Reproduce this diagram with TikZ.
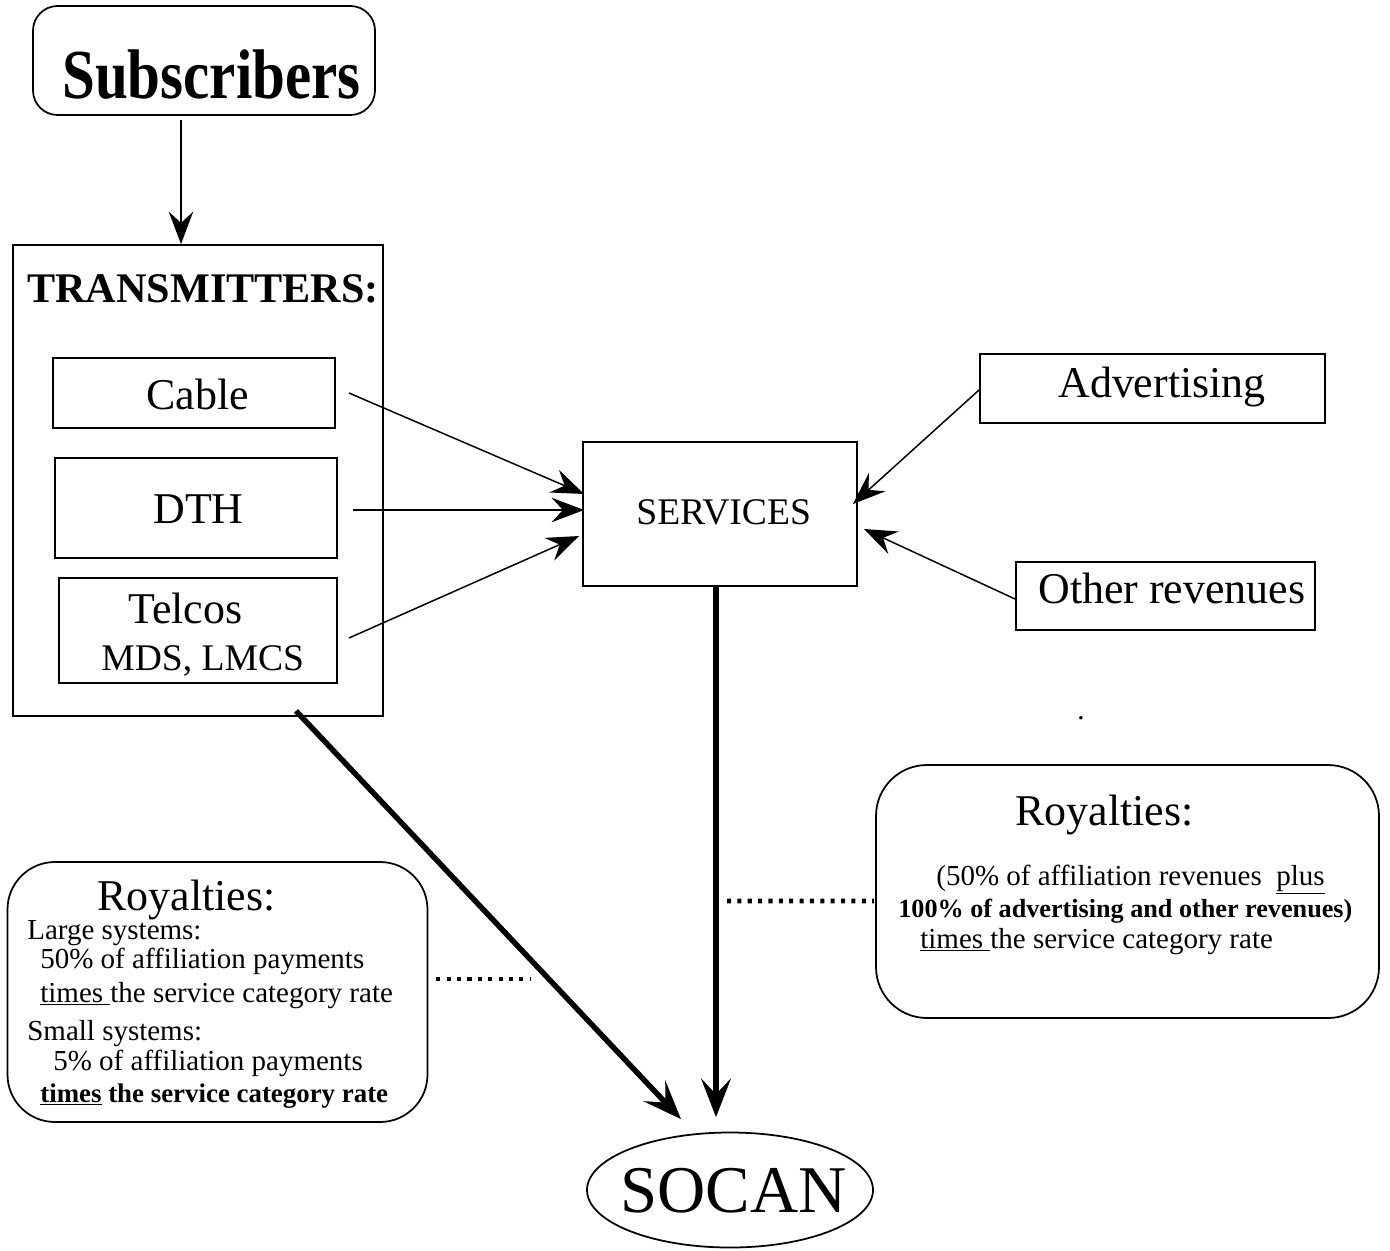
\documentclass[tikz,border=0pt]{standalone}
\usepackage{graphicx}
\usepackage{fontspec}
\setmainfont{Liberation Serif}
\usetikzlibrary{arrows.meta,shapes.geometric}
\newcommand{\pxu}{0.02cm}
\newcommand{\fsz}[1]{\fontsize{#1pt}{#1pt}\selectfont}
\tikzset{
  box/.style={draw, line width=1.1pt, inner sep=0pt},
  roundbox/.style={draw, line width=1pt, inner sep=0pt},
  txt/.style={anchor=base west, inner sep=0pt},
  thin arrow/.style={-{Stealth[length=18.5pt,width=14pt,inset=6.5pt]}, line width=.85pt},
  thick arrow/.style={-{Stealth[length=22pt,width=17pt,inset=9pt]}, line width=3.1pt},
  dots/.style={line width=2.8pt, dash pattern=on 2.3pt off 3.6pt}
}
\begin{document}
\begin{tikzpicture}[x=0.02cm, y=-0.02cm]
\useasboundingbox (0,0) rectangle (1390,1251);

% boxes
\node[roundbox, rounded corners=14pt, minimum width=342*\pxu, minimum height=109*\pxu] (subs) at (204,60.5) {};
\node[box, minimum width=370*\pxu, minimum height=471*\pxu] (trans) at (198,480.5) {};
\node[box, minimum width=282*\pxu, minimum height=70*\pxu] (cable) at (194,393) {};
\node[box, minimum width=282*\pxu, minimum height=100*\pxu] (dth) at (196,508) {};
\node[box, minimum width=278*\pxu, minimum height=105*\pxu] (telcos) at (198,630.5) {};
\node[box, minimum width=274*\pxu, minimum height=144*\pxu] (services) at (720,514) {};
\node[box, minimum width=345*\pxu, minimum height=69*\pxu] (adv) at (1152.5,388.5) {};
\node[box, minimum width=299*\pxu, minimum height=68*\pxu] (other) at (1165.5,596) {};
\node[roundbox, ellipse, minimum width=286*\pxu, minimum height=115*\pxu] (socan) at (730,1190) {};
\node[roundbox, rounded corners=27pt, minimum width=420*\pxu, minimum height=260*\pxu] (roya) at (217.5,992) {};
\node[roundbox, rounded corners=29pt, minimum width=503*\pxu, minimum height=253*\pxu] (royb) at (1127.5,891.5) {};

% texts
\node[txt, font=\fsz{40}\bfseries] (subsT) at (62,98) {\scalebox{0.84}[1]{Subscribers}};
\node[txt, font=\fsz{24}\bfseries] (transT) at (27,302) {TRANSMITTERS:};
\node[txt, font=\fsz{25}] (cableT) at (146,409) {Cable};
\node[txt, font=\fsz{25}] (dthT) at (153,523) {DTH};
\node[txt, font=\fsz{25}] (telcosT) at (128,623) {Telcos};
\node[txt, font=\fsz{21.4}] (mdsT) at (101,670) {MDS, LMCS};
\node[txt, font=\fsz{21.4}] (servicesT) at (636,524) {SERVICES};
\node[txt, font=\fsz{25}] (advT) at (1058,397) {Advertising};
\node[txt, font=\fsz{25}] (otherT) at (1038,603) {Other revenues};
\node[txt, font=\fsz{38}] (socanT) at (620,1212) {SOCAN};
\node[txt, font=\fsz{16.5}] (stray) at (1077,719) {.};

\node[txt, font=\fsz{25}] (royaT) at (97,910) {Royalties:};
\node[txt, font=\fsz{16.5}] (largeT) at (27,939) {Large systems:};
\node[txt, font=\fsz{16.5}] (largeA) at (40,968) {50\% of affiliation payments};
\node[txt, font=\fsz{16.5}] (largeB) at (40,1002) {\underline{times\ }the service category rate};
\node[txt, font=\fsz{16.5}] (smallT) at (27,1040) {Small systems:};
\node[txt, font=\fsz{16.5}] (smallA) at (53,1070) {5\% of affiliation payments};
\node[txt, font=\fsz{15.3}\bfseries] (smallB) at (40,1102) {\underline{times} the service category rate};

\node[txt, font=\fsz{25}] (roybT) at (1015,825) {Royalties:};
\node[txt, font=\fsz{16.5}] (roybA) at (936,885) {(50\% of affiliation revenues\ \ \underline{plus}};
\node[txt, font=\fsz{14.9}\bfseries] (roybB) at (898,917) {100\% of advertising and other revenues)};
\node[txt, font=\fsz{16.5}] (roybC) at (920,948) {\underline{times\ }the service category rate};

% connectors
\draw[thin arrow] ([xshift=-23*\pxu,yshift=-4*\pxu]subs.south) -- ([xshift=-17*\pxu]trans.north);
\draw[thin arrow] ([xshift=13*\pxu]cable.east) -- ([xshift=2*\pxu,yshift=20*\pxu]services.west);
\draw[thin arrow] ([xshift=15*\pxu,yshift=-2*\pxu]dth.east) -- ([xshift=2*\pxu,yshift=4*\pxu]services.west);
\draw[thin arrow] ([xshift=11*\pxu,yshift=-7.5*\pxu]telcos.east) -- ([xshift=-3*\pxu,yshift=-22*\pxu]services.west);
\draw[thin arrow] ([yshift=-1.5*\pxu]adv.west) -- ([xshift=-5*\pxu,yshift=10*\pxu]services.east);
\draw[thin arrow] ([yshift=-3*\pxu]other.west) -- ([xshift=6*\pxu,yshift=-15*\pxu]services.east);
\draw[thick arrow] ([xshift=98*\pxu,yshift=6*\pxu]trans.south) -- ([xshift=-49*\pxu,yshift=12.5*\pxu]socan.north);
\draw[thick arrow] ([xshift=-4*\pxu]services.south) -- ([xshift=-14*\pxu,yshift=14.5*\pxu]socan.north);

\coordinate (dotL) at (531,979);
\coordinate (dotR) at (727,901);
\draw[dots] ([xshift=8*\pxu,yshift=13*\pxu]roya.east) -- (dotL);
\draw[dots] (dotR) -- ([xshift=-1*\pxu,yshift=-9.5*\pxu]royb.west);
\end{tikzpicture}
\end{document}
